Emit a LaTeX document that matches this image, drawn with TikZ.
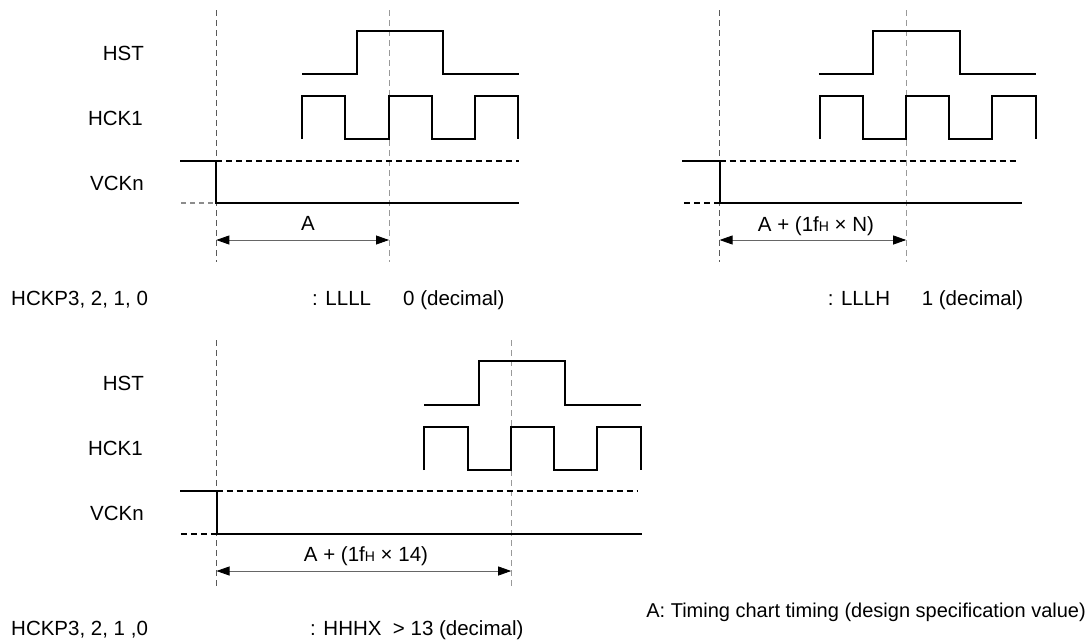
\documentclass[tikz,border=0pt]{standalone}
\usepackage{fontspec}
\setmainfont{Liberation Sans}
\usetikzlibrary{arrows.meta}
\begin{document}
\begin{tikzpicture}[x=1pt,y=-1pt,
  sig/.style={line width=2pt},
  hidash/.style={line width=2pt,dash pattern=on 6pt off 4pt},
  guide/.style={line width=0.9pt,black!65,dash pattern=on 6pt off 4pt},
  guidelight/.style={line width=0.9pt,black!40,dash pattern=on 6pt off 4pt},
  lodash/.style={line width=1.2pt,black!45,dash pattern=on 5pt off 4pt},
  lodashb/.style={line width=2pt,dash pattern=on 6pt off 4pt},
  dim/.style={line width=0.8pt,black!60,{Triangle[length=13pt,width=9pt,color=black]}-{Triangle[length=13pt,width=9pt,color=black]}},
  lbl/.style={font=\fontsize{20.5}{23}\selectfont,inner sep=0pt}
]
\useasboundingbox (0,0) rectangle (1090,641);
\newcommand{\fsubH}{{\fontsize{14}{14}\selectfont H}}

% ---------- top-left panel ----------
\coordinate (g1a) at (216.3,10);  \coordinate (g1b) at (216.3,262);
\coordinate (g2a) at (389,10);    \coordinate (g2b) at (389,262);
\draw[guide] (g1a) -- (g1b);
\draw[guidelight] (g2a) -- (g2b);
\node[lbl,anchor=base east] (hstA) at (144,60) {HST};
\node[lbl,anchor=base east] (hckA) at (143,125) {HCK1};
\node[lbl,anchor=base east] (vckA) at (144,190) {VCKn};
\draw[sig] (302.3,74) -- (357,74) -- (357,31) -- (442.8,31) -- (442.8,74) -- (519,74);
\draw[sig] (302.3,139) -- (302.3,96) -- (345.4,96) -- (345.4,139) -- (389,139) -- (389,96) -- (432.2,96) -- (432.2,139) -- (475.2,139) -- (475.2,96) -- (518.2,96) -- (518.2,139);
\draw[sig] (180,161) -- (216.3,161) -- (216.3,203) -- (519,203);
\draw[hidash] (216.3,161) -- (519,161);
\draw[lodash] (181,203) -- (216.3,203);
\coordinate (aL1) at (216.3,240); \coordinate (aR1) at (389,240);
\draw[dim] (aL1) -- (aR1);
\node[lbl,anchor=base] (tA1) at (308,230.5) {A};
\node[lbl,anchor=base west] (pA) at (11,305) {HCKP3, 2, 1, 0};
\node[lbl,anchor=base west] (cA) at (312,305) {: LLLL};
\node[lbl,anchor=base west] (dA) at (403,305) {0 (decimal)};

% ---------- top-right panel ----------
\coordinate (g3a) at (719.6,10);  \coordinate (g3b) at (719.6,262);
\coordinate (g4a) at (906.2,10);  \coordinate (g4b) at (906.2,262);
\draw[guide] (g3a) -- (g3b);
\draw[guidelight] (g4a) -- (g4b);
\draw[sig] (818.8,74) -- (873.2,74) -- (873.2,31) -- (960.2,31) -- (960.2,74) -- (1035.6,74);
\draw[sig] (819.5,139) -- (819.5,96) -- (862.7,96) -- (862.7,139) -- (906.2,139) -- (906.2,96) -- (949,96) -- (949,139) -- (991.8,139) -- (991.8,96) -- (1035.6,96) -- (1035.6,139);
\draw[sig] (682.4,161) -- (719.6,161) -- (719.6,203) -- (1021.6,203);
\draw[hidash] (719.6,161) -- (1018.8,161);
\draw[lodashb] (683.8,203) -- (719.6,203);
\coordinate (aL2) at (719.6,240); \coordinate (aR2) at (906.2,240);
\draw[dim] (aL2) -- (aR2);
\node[lbl,anchor=base] (tA2) at (816,231) {A + (1f\fsubH\ × N)};
\node[lbl,anchor=base west] (cB) at (827.6,305) {: LLLH};
\node[lbl,anchor=base west] (dB) at (921.6,305) {1 (decimal)};

% ---------- bottom panel ----------
\coordinate (g5a) at (216.5,340);  \coordinate (g5b) at (216.5,586);
\coordinate (g6a) at (511.2,340);  \coordinate (g6b) at (511.2,586);
\draw[guide] (g5a) -- (g5b);
\draw[guidelight] (g6a) -- (g6b);
\node[lbl,anchor=base east] (hstC) at (144,390) {HST};
\node[lbl,anchor=base east] (hckC) at (143,455) {HCK1};
\node[lbl,anchor=base east] (vckC) at (144,520) {VCKn};
\draw[sig] (424.1,405) -- (478.6,405) -- (478.6,361) -- (565.2,361) -- (565.2,405) -- (640.6,405);
\draw[sig] (424.1,470) -- (424.1,427) -- (467.9,427) -- (467.9,470) -- (511.2,470) -- (511.2,427) -- (554,427) -- (554,470) -- (597.3,470) -- (597.3,427) -- (640.6,427) -- (640.6,470);
\draw[sig] (180,491) -- (216.5,491) -- (216.5,534) -- (641.5,534);
\draw[hidash] (216.5,491) -- (638.4,491);
\draw[lodashb] (180.8,534) -- (216.5,534);
\coordinate (aL3) at (216.5,571); \coordinate (aR3) at (511.2,571);
\draw[dim] (aL3) -- (aR3);
\node[lbl,anchor=base] (tA3) at (366,561) {A + (1f\fsubH\ × 14)};
\node[lbl,anchor=base west] (pC) at (11,635) {HCKP3, 2, 1 ,0};
\node[lbl,anchor=base west] (cC) at (310,635) {: HHHX\ \ > 13 (decimal)};
\node[lbl,anchor=base east,font=\fontsize{20}{23}\selectfont] (note) at (1086,617) {A: Timing chart timing (design specification value)};
\end{tikzpicture}
\end{document}
